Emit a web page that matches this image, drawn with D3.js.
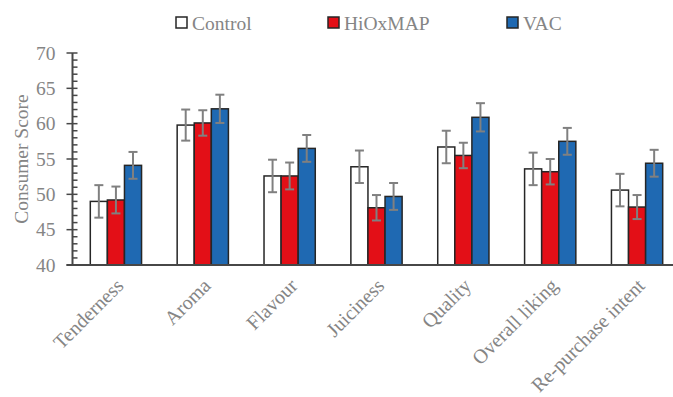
<!DOCTYPE html>
<html>
<head>
<meta charset="utf-8">
<script src="https://cdn.jsdelivr.net/npm/d3@7"></script>
<style>
  html, body { margin: 0; padding: 0; background: #fff; }
  svg { display: block; }
  text { font-family: "Liberation Serif", "Times New Roman", serif; fill: #858585; }
</style>
</head>
<body>
<svg id="chart" width="673" height="397"></svg>
<script>
// Consumer sensory scores by packaging treatment
const categories = ["Tenderness", "Aroma", "Flavour", "Juiciness", "Quality", "Overall liking", "Re-purchase intent"];
const seriesNames = ["Control", "HiOxMAP", "VAC"];
const controlMeans = [49.0, 59.8, 52.6, 53.9, 56.7, 53.6, 50.6];
const hioxmapMeans = [49.2, 60.1, 52.6, 48.1, 55.5, 53.2, 48.2];
const vacMeans     = [54.1, 62.1, 56.5, 49.7, 60.9, 57.5, 54.4];
const controlErr   = [2.3, 2.2, 2.3, 2.3, 2.3, 2.3, 2.3];
const hioxmapErr   = [1.9, 1.8, 1.9, 1.8, 1.8, 1.8, 1.7];
const vacErr       = [1.9, 2.0, 1.9, 1.9, 2.0, 1.9, 1.9];
const yTicks = [40, 45, 50, 55, 60, 65, 70];

const means = [controlMeans, hioxmapMeans, vacMeans];
const errs = [controlErr, hioxmapErr, vacErr];
const fills = ["#ffffff", "#e30f17", "#1f69b2"];

const svg = d3.select("#chart");
const plotLeft = 72.5, plotRight = 680.5, plotTop = 53, plotBottom = 265;

const x0 = d3.scaleBand().domain(categories).range([plotLeft, plotRight])
  .paddingInner(0.41).paddingOuter(0.205);
const x1 = d3.scaleBand().domain(seriesNames).range([0, x0.bandwidth()]);
const y = d3.scaleLinear().domain([40, 70]).range([plotBottom, plotTop]);

const axisColor = "#474747";

// minor ticks (every unit, inside)
const minor = d3.range(40, 71, 1).filter(v => v % 5 !== 0);
svg.append("g").selectAll("line").data(minor).join("line")
  .attr("x1", plotLeft).attr("x2", plotLeft + 5)
  .attr("y1", d => y(d)).attr("y2", d => y(d))
  .attr("stroke", axisColor).attr("stroke-width", 1.5);

// major ticks crossing the axis
svg.append("g").selectAll("line").data(yTicks).join("line")
  .attr("x1", plotLeft - 6).attr("x2", plotLeft + 5)
  .attr("y1", d => y(d)).attr("y2", d => y(d))
  .attr("stroke", axisColor).attr("stroke-width", 1.5);

// tick labels
svg.append("g").selectAll("text").data(yTicks).join("text")
  .attr("x", plotLeft - 17).attr("y", d => y(d))
  .attr("dy", "0.35em").attr("text-anchor", "end")
  .attr("font-size", 19.5)
  .text(d => d);

// y axis line
svg.append("line").attr("x1", plotLeft).attr("x2", plotLeft)
  .attr("y1", plotTop).attr("y2", plotBottom)
  .attr("stroke", axisColor).attr("stroke-width", 2);

// y axis title
svg.append("text")
  .attr("transform", `translate(28,${(plotTop + plotBottom) / 2}) rotate(-90)`)
  .attr("text-anchor", "middle").attr("font-size", 19.5)
  .text("Consumer Score");

// bars
const groups = svg.append("g").selectAll("g").data(categories).join("g")
  .attr("transform", d => `translate(${x0(d)},0)`);

seriesNames.forEach((s, si) => {
  groups.append("rect")
    .attr("x", x1(s))
    .attr("y", (d, i) => y(means[si][i]))
    .attr("width", x1.bandwidth())
    .attr("height", (d, i) => plotBottom - y(means[si][i]))
    .attr("fill", fills[si])
    .attr("stroke", "#262626").attr("stroke-width", 1.5);
});

// error bars
seriesNames.forEach((s, si) => {
  const cx = x1(s) + x1.bandwidth() / 2;
  const eg = groups.append("g").attr("stroke", "#808080").attr("stroke-width", 2);
  eg.append("line").attr("x1", cx).attr("x2", cx)
    .attr("y1", (d, i) => y(means[si][i] + errs[si][i]))
    .attr("y2", (d, i) => y(means[si][i] - errs[si][i]));
  eg.append("line").attr("x1", cx - 4.5).attr("x2", cx + 4.5)
    .attr("y1", (d, i) => y(means[si][i] + errs[si][i]))
    .attr("y2", (d, i) => y(means[si][i] + errs[si][i]));
  eg.append("line").attr("x1", cx - 4.5).attr("x2", cx + 4.5)
    .attr("y1", (d, i) => y(means[si][i] - errs[si][i]))
    .attr("y2", (d, i) => y(means[si][i] - errs[si][i]));
});

// x axis line
svg.append("line").attr("x1", plotLeft - 6).attr("x2", 673)
  .attr("y1", plotBottom).attr("y2", plotBottom)
  .attr("stroke", axisColor).attr("stroke-width", 2);

// category labels
svg.append("g").selectAll("text").data(categories).join("text")
  .attr("transform", d => `translate(${x0(d) + x0.bandwidth() / 2 + 4},${plotBottom + 17}) rotate(-45)`)
  .attr("text-anchor", "end").attr("dy", "0.35em")
  .attr("font-size", 20)
  .text(d => d);

// legend
const legendX = [176, 328, 507];
const leg = svg.append("g").selectAll("g").data(seriesNames).join("g")
  .attr("transform", (d, i) => `translate(${legendX[i]},17)`);
leg.append("rect").attr("width", 11).attr("height", 11)
  .attr("fill", (d, i) => fills[i]).attr("stroke", "#262626").attr("stroke-width", 1.5);
leg.append("text").attr("x", 16).attr("y", 6).attr("dy", "0.35em")
  .attr("font-size", 19.5).text(d => d);
</script>
</body>
</html>
